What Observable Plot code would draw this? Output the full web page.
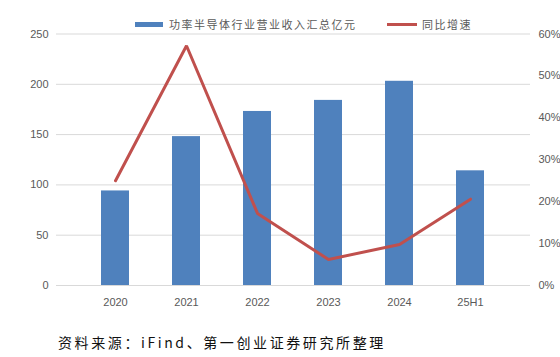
<!DOCTYPE html>
<html><head><meta charset="utf-8">
<script src="https://cdn.jsdelivr.net/npm/d3@7"></script>
<script src="https://cdn.jsdelivr.net/npm/@observablehq/plot@0.6"></script>
<style>
body{margin:0;background:#fff;}
#wrap{width:560px;height:357px;position:relative;overflow:hidden;font-family:"Noto Sans CJK SC",sans-serif;}
#legend{height:20px;position:relative;font-size:11px;color:#595959;letter-spacing:1.5px;z-index:2;}
.sw{position:absolute;}
.lt{position:absolute;top:16px;line-height:17px;white-space:nowrap;}
#chart{height:300px;}
#caption{position:absolute;left:58px;top:333px;font-size:14px;letter-spacing:2.6px;color:#111;white-space:nowrap;line-height:18px;}
</style></head>
<body>
<div id="wrap">
  <div id="legend">
    <div class="sw" style="left:135px;top:22px;width:28px;height:5px;background:#4F81BD"></div>
    <div class="lt" id="l1" style="left:169px"></div>
    <div class="sw" style="left:387px;top:23px;width:30px;height:3px;background:#C0504D"></div>
    <div class="lt" id="l2" style="left:422px"></div>
  </div>
  <div id="chart"></div>
  <div id="caption"></div>
</div>
<script>
const categories = ["2020","2021","2022","2023","2024","25H1"];
const revenue = [94, 148, 173, 184, 203, 114];
const growth = [25.0, 57.2, 17.2, 6.2, 9.8, 20.6];
const leftTicks = [0, 50, 100, 150, 200, 250];
const rightTicks = [0, 10, 20, 30, 40, 50, 60];
const seriesNames = ["功率半导体行业营业收入汇总亿元", "同比增速"];
const captionText = "资料来源：iFind、第一创业证券研究所整理";

document.getElementById("l1").textContent = seriesNames[0];
document.getElementById("l2").textContent = seriesNames[1];
document.getElementById("caption").textContent = captionText;

const k = 250 / 60;
const data = categories.map((c, i) => ({cat: c, rev: revenue[i], g: growth[i]}));

const chart = Plot.plot({
  width: 560,
  height: 300,
  marginTop: 13.5,
  marginBottom: 35,
  marginLeft: 56,
  marginRight: 30,
  style: {fontFamily: "'Liberation Sans', Arial, sans-serif", fontSize: "11px", color: "#595959", background: "transparent"},
  x: {domain: categories, padding: 0.6, label: null},
  y: {domain: [0, 250], label: null},
  marks: [
    Plot.gridY(leftTicks, {stroke: "#d9d9d9", strokeOpacity: 1, strokeWidth: 1}),
    Plot.axisY(leftTicks, {anchor: "left", tickSize: 0, tickPadding: 8, label: null, fill: "#595959"}),
    Plot.axisY(rightTicks.map(t => t * k), {anchor: "right", tickSize: 0, tickPadding: 8, label: null, fill: "#595959", tickFormat: d => Math.round(d / k) + "%"}),
    Plot.axisX({tickSize: 0, tickPadding: 13, label: null, fill: "#595959"}),
    Plot.barY(data, {x: "cat", y: "rev", fill: "#4F81BD"}),
    Plot.line(data, {x: "cat", y: d => d.g * k, stroke: "#C0504D", strokeWidth: 3, strokeLinejoin: "miter"})
  ]
});
document.getElementById("chart").appendChild(chart);
</script>
</body></html>
